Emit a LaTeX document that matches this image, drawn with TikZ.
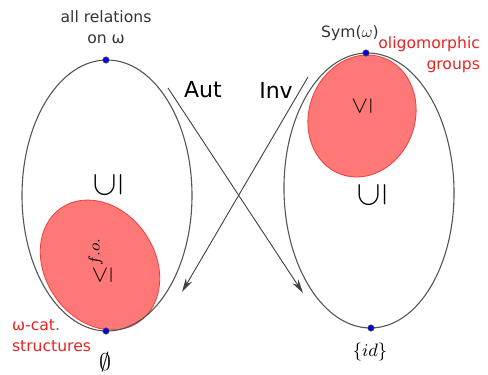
\documentclass[tikz,border=0pt]{standalone}
\usepackage{fontspec}
\setmainfont{DejaVu Sans}
\usetikzlibrary{arrows.meta}
\definecolor{outline}{HTML}{555555}
\definecolor{blobfill}{HTML}{FF7878}
\definecolor{blobedge}{HTML}{F03C3C}
\definecolor{labelred}{HTML}{E82323}
\definecolor{dotblue}{HTML}{0000E6}

\begin{document}
\begin{tikzpicture}[x=0.5pt,y=0.5pt,
  font=\fontsize{7.8}{10.5}\selectfont,
  blob/.style={fill=blobfill,draw=blobedge,line width=0.4pt},
  bound/.style={draw=outline,line width=0.55pt},
  pt/.style={circle,fill=dotblue,draw=black!70,line width=0.3pt,inner sep=0pt,minimum size=3.2pt},
  redlabel/.style={text=labelred},
  maplabel/.style={font=\fontsize{11}{13}\selectfont},
  maparrow/.style={draw=black!75,line width=0.45pt,-{Stealth[length=7pt,width=3.6pt]}}]
\useasboundingbox (0,0) rectangle (488,375);
% the two orders
\draw[blob] (100,110) ellipse [x radius=55, y radius=69, rotate=34];
\draw[bound] (107,179.5) ellipse [x radius=85, y radius=135.5];
\draw[blob] (362,259) ellipse [x radius=53, y radius=62, rotate=-20];
\draw[bound] (369,184.5) ellipse [x radius=85, y radius=137.5, rotate=1];
% extreme points
\node[pt] (reltop) at (106,315) {};
\node[pt] (relbot) at (106,44) {};
\node[pt] (symtop) at (366,322) {};
\node[pt] (idbot) at (371,47) {};
% labels
\node[text=black!80,align=center] (alltxt) at (106,348) {all relations\\on ω};
\node[redlabel,anchor=west,align=left] (cattxt) at (5,39) {ω-cat.\\structures};
\node[font=\fontsize{13}{15}\selectfont] (empty) at (105,13) {$\emptyset$};
\node[text=black!80] (symtxt) at (350,342) {Sym($\omega$)};
\node[redlabel,anchor=east,align=right] (oligtxt) at (487,320.5) {oligomorphic\\groups};
\node[font=\fontsize{9.5}{11}\selectfont] (idtxt) at (370,23) {$\{id\}$};
\node[rotate=90,font=\fontsize{17}{19}\selectfont] (subl) at (108,190) {$\subseteq$};
\node[rotate=90,font=\fontsize{17}{19}\selectfont] (subr) at (372,180) {$\subseteq$};
\node[rotate=90,font=\fontsize{12}{14}\selectfont] (leqr) at (362,269) {$\leq$};
\node[rotate=90,font=\fontsize{12}{14}\selectfont] (leql) at (100,114) {$\leq^{f.o.}$};
% the maps between them
\coordinate (autfrom) at (168,287);
\coordinate (autto) at (303,82);
\coordinate (invfrom) at (308,298);
\coordinate (invto) at (182,83);
\draw[maparrow] (autfrom) -- (autto);
\draw[maparrow] (invfrom) -- (invto);
\node[maplabel] (auttxt) at (203,285) {Aut};
\node[maplabel] (invtxt) at (276,285) {Inv};
\end{tikzpicture}
\end{document}
